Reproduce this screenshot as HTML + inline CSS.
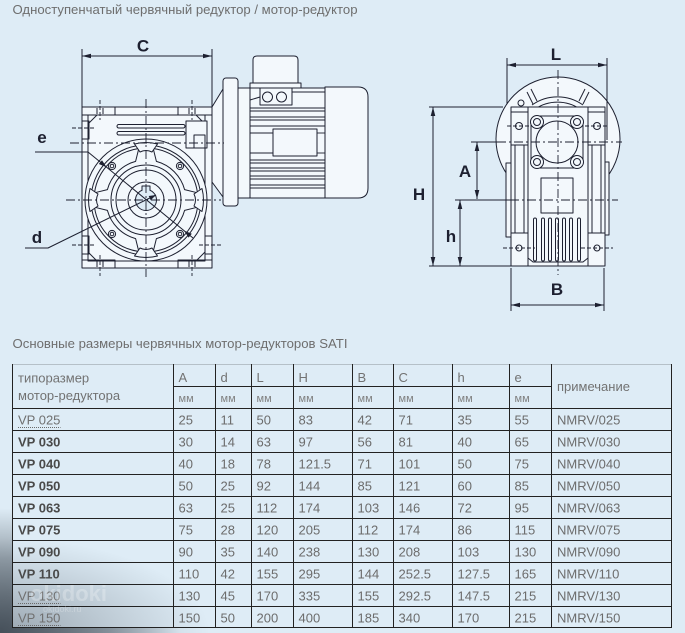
<!DOCTYPE html>
<html><head><meta charset="utf-8">
<style>
html,body{margin:0;padding:0;width:685px;height:633px;overflow:hidden;background:#deecf6}
#wrap{position:relative;width:685px;height:633px;overflow:hidden}
svg{display:block}
</style></head><body>
<div id="wrap">
<svg width="685" height="633" viewBox="0 0 685 633" xmlns="http://www.w3.org/2000/svg" font-family="Liberation Sans, Arial, sans-serif">
<defs>
 <radialGradient id="sh1" cx="0" cy="1" r="1"><stop offset="0" stop-color="#3c4650" stop-opacity="0.42"/><stop offset="1" stop-color="#3c4650" stop-opacity="0"/></radialGradient>
 <radialGradient id="sh2" cx="0" cy="1" r="1"><stop offset="0" stop-color="#3c4650" stop-opacity="0.9"/><stop offset="0.6" stop-color="#3c4650" stop-opacity="0.45"/><stop offset="1" stop-color="#3c4650" stop-opacity="0"/></radialGradient>
 <clipPath id="outside"><path clip-rule="evenodd" d="M0 0H685V633H0Z M12.5 364H671V627.5H12.5Z"/></clipPath>
</defs>
<rect width="685" height="633" fill="#deecf6"/>
<rect x="0" y="538" width="210" height="95" fill="url(#sh1)"/>
<rect x="0" y="508" width="180" height="125" fill="url(#sh2)" clip-path="url(#outside)"/>

<!-- titles -->
<text x="12.5" y="14" font-size="13" fill="#6e6e6e" textLength="345" lengthAdjust="spacingAndGlyphs">Одноступенчатый червячный редуктор / мотор-редуктор</text>
<text x="12.5" y="348" font-size="13" fill="#6e6e6e" textLength="335" lengthAdjust="spacingAndGlyphs">Основные размеры червячных мотор-редукторов SATI</text>

<!-- ============ LEFT VIEW ============ -->
<g stroke="#1d2030" stroke-width="1" fill="none" stroke-linejoin="round">
 <!-- motor -->
 <path d="M212,107 L223,89 L223,197 L212,182 Z" fill="#f3f8fc"/>
 <rect x="238" y="88" width="87" height="110" fill="#f3f8fc"/>
 <line x1="250" y1="88" x2="250" y2="198"/>
 <g stroke-width="0.9">
  <line x1="250" y1="108" x2="325" y2="108"/><line x1="250" y1="111" x2="325" y2="111"/>
  <line x1="250" y1="117" x2="325" y2="117"/><line x1="250" y1="120" x2="325" y2="120"/>
  <line x1="250" y1="126" x2="325" y2="126"/><line x1="250" y1="133" x2="273" y2="133"/>
  <line x1="317" y1="133" x2="325" y2="133"/><line x1="250" y1="153" x2="273" y2="153"/>
  <line x1="317" y1="153" x2="325" y2="153"/>
  <line x1="250" y1="160" x2="325" y2="160"/><line x1="250" y1="163" x2="325" y2="163"/>
  <line x1="250" y1="168" x2="325" y2="168"/><line x1="250" y1="171" x2="325" y2="171"/>
  <line x1="250" y1="176" x2="325" y2="176"/><line x1="250" y1="179" x2="325" y2="179"/>
  <line x1="250" y1="185" x2="325" y2="185"/><line x1="250" y1="188" x2="325" y2="188"/>
  <line x1="262" y1="92" x2="325" y2="92"/>
 </g>
 <rect x="273" y="129" width="44" height="27" fill="#f3f8fc"/>
 <rect x="223" y="78" width="15" height="128" rx="3" fill="#f3f8fc"/>
 <path d="M253,84 V60 Q253,56 257,56 H294 Q298,56 298,60 V84 Z" fill="#f3f8fc"/>
 <rect x="250" y="83" width="51" height="5" fill="#f3f8fc"/>
 <rect x="260" y="88" width="32" height="17" fill="#f3f8fc"/>
 <circle cx="267.5" cy="97" r="5"/><circle cx="281.5" cy="97" r="5"/>
 <line x1="250" y1="100" x2="260" y2="97"/>
 <path d="M325,87 H358 Q368,87 368,97 V188 Q368,198 358,198 H325 Z" fill="#f3f8fc"/>

 <!-- gearbox body -->
 <rect x="82" y="107" width="130" height="161" fill="#f3f8fc"/>
 <rect x="88" y="115" width="117" height="146"/>
 <path d="M82,115 H115 V107 M178,107 V115 H212"/>
 <path d="M82,260 H115 V268 M178,268 V260 H212"/>
 <line x1="97" y1="108" x2="97" y2="114"/><line x1="103" y1="108" x2="103" y2="114"/>
 <line x1="189" y1="108" x2="189" y2="114"/><line x1="195" y1="108" x2="195" y2="114"/>
 <line x1="97" y1="261" x2="97" y2="267"/><line x1="103" y1="261" x2="103" y2="267"/>
 <line x1="189" y1="261" x2="189" y2="267"/><line x1="195" y1="261" x2="195" y2="267"/>
 <rect x="82" y="121" width="7" height="18"/>
 <rect x="82" y="236" width="7" height="18"/>
 <rect x="205" y="236" width="7" height="18"/>
 <line x1="88" y1="124" x2="97" y2="115"/><line x1="196" y1="115" x2="205" y2="124"/>
 <line x1="88" y1="252" x2="97" y2="261"/><line x1="205" y1="252" x2="196" y2="261"/>
 <rect x="117" y="124.5" width="68" height="3.5" rx="1.7"/>
 <rect x="117" y="131.5" width="68" height="3.5" rx="1.7"/>
 <rect x="186" y="121" width="21" height="27" fill="#f3f8fc"/>
 <rect x="194" y="135" width="11" height="13"/>

 <!-- flange -->
 <circle cx="146" cy="200" r="61" fill="#f3f8fc"/>
 <circle cx="146" cy="200" r="55"/>
 <path d="M197.5,207.2 A52,52 0 0 1 153.2,251.5 L156.4,238.6 A40,40 0 0 0 184.6,210.4 Z"/>
 <path d="M138.8,251.5 A52,52 0 0 1 94.5,207.2 L107.4,210.4 A40,40 0 0 0 135.6,238.6 Z"/>
 <path d="M94.5,192.8 A52,52 0 0 1 138.8,148.5 L135.6,161.4 A40,40 0 0 0 107.4,189.6 Z"/>
 <path d="M153.2,148.5 A52,52 0 0 1 197.5,192.8 L184.6,189.6 A40,40 0 0 0 156.4,161.4 Z"/>
 <g>
  <path d="M134.5,144 Q146,141 157.5,144 L152,152 Q146,149 140,152 Z" fill="#f3f8fc"/>
  <path d="M134.5,144 Q146,141 157.5,144 L152,152 Q146,149 140,152 Z" fill="#f3f8fc" transform="rotate(90 146 200)"/>
  <path d="M134.5,144 Q146,141 157.5,144 L152,152 Q146,149 140,152 Z" fill="#f3f8fc" transform="rotate(180 146 200)"/>
  <path d="M134.5,144 Q146,141 157.5,144 L152,152 Q146,149 140,152 Z" fill="#f3f8fc" transform="rotate(270 146 200)"/>
 </g>
 <circle cx="146" cy="200" r="35"/>
 <circle cx="146" cy="200" r="30"/>
 <circle cx="146" cy="200" r="18"/>
 <circle cx="146" cy="200" r="10.5" fill="#deecf6"/>
 <rect x="142.5" y="186.5" width="7" height="4" fill="#deecf6" stroke="none"/>
 <path d="M142,190 V186 H150 V190"/>
 <g>
  <circle cx="112" cy="166" r="3.6"/><circle cx="112" cy="166" r="1.8"/>
  <circle cx="180" cy="166" r="3.6"/><circle cx="180" cy="166" r="1.8"/>
  <circle cx="112" cy="234" r="3.6"/><circle cx="112" cy="234" r="1.8"/>
  <circle cx="180" cy="234" r="3.6"/><circle cx="180" cy="234" r="1.8"/>
 </g>

 <!-- centerlines -->
 <g stroke-dasharray="9,3,2,3" stroke-width="0.9">
  <line x1="146" y1="99" x2="146" y2="277"/>
  <line x1="66" y1="200" x2="221" y2="200"/>
  <line x1="70" y1="143" x2="224" y2="143"/>
 </g>
 <g stroke-dasharray="4,2" stroke-width="0.9">
  <line x1="100" y1="100" x2="100" y2="120"/><line x1="192" y1="100" x2="192" y2="120"/>
  <line x1="100" y1="255" x2="100" y2="276"/><line x1="192" y1="255" x2="192" y2="276"/>
  <line x1="72" y1="128" x2="95" y2="128"/>
  <line x1="72" y1="245" x2="95" y2="245"/><line x1="199" y1="245" x2="222" y2="245"/>
 </g>

 <!-- dimension C -->
 <line x1="82" y1="49" x2="82" y2="107"/><line x1="212" y1="49" x2="212" y2="107"/>
 <line x1="82" y1="56" x2="212" y2="56"/>
 <!-- e leader -->
 <polyline points="35,152 88,152 193,238"/>
 <!-- d leader -->
 <polyline points="25,248 48,248 156,195"/>
</g>
<g fill="#1d2030">
 <polygon points="82,56 91,53.7 91,58.3"/><polygon points="212,56 203,53.7 203,58.3"/>
 <polygon points="106.6,167.2 98.8,164.0 102.0,160.2"/>
 <polygon points="184,230.6 188.6,237.6 191.8,233.8"/>
 <polygon points="156,195 148.7,196.0 150.7,200.2"/>
</g>

<!-- ============ RIGHT VIEW ============ -->
<g stroke="#1d2030" stroke-width="1" fill="none" stroke-linejoin="round">
 <circle cx="558" cy="139" r="62" fill="#f3f8fc"/>
 <path d="M532,105 A44,44 0 0 1 583,105"/>
 <path d="M535,109 A40,40 0 0 1 580,109"/>
 <line x1="527" y1="92" x2="533" y2="104"/><line x1="531" y1="89" x2="537" y2="101"/>
 <line x1="589" y1="92" x2="583" y2="104"/><line x1="585" y1="89" x2="579" y2="101"/>
 <circle cx="521" cy="103" r="3"/>
 <rect x="506" y="163" width="6" height="74" fill="#f3f8fc"/>
 <rect x="604" y="162" width="5" height="73" fill="#f3f8fc"/>
 <!-- body -->
 <rect x="528" y="107" width="60" height="159" fill="#f3f8fc"/>
 <rect x="511" y="107" width="17" height="159" fill="#f3f8fc"/>
 <rect x="588" y="107" width="17" height="159" fill="#f3f8fc"/>
 <line x1="511" y1="145" x2="528" y2="145"/><line x1="588" y1="145" x2="605" y2="145"/>
 <line x1="511" y1="233" x2="528" y2="233"/><line x1="588" y1="233" x2="605" y2="233"/>
 <line x1="515" y1="145" x2="515" y2="233"/><line x1="524" y1="145" x2="524" y2="233"/>
 <line x1="592" y1="145" x2="592" y2="233"/><line x1="601" y1="145" x2="601" y2="233"/>
 <line x1="511" y1="112" x2="528" y2="112"/><line x1="588" y1="112" x2="605" y2="112"/>
 <circle cx="519" cy="126" r="3.5"/><circle cx="597" cy="126" r="3.5"/>
 <circle cx="519" cy="248" r="3"/><circle cx="597" cy="248" r="3"/>
 <path d="M528,258 L533,262 H583 L588,258"/>
 <!-- square flange -->
 <rect x="531" y="116" width="52" height="52" rx="7" fill="#f3f8fc"/>
 <circle cx="537" cy="122" r="6.5" fill="#f3f8fc"/><circle cx="537" cy="122" r="3.5"/>
 <circle cx="577" cy="122" r="6.5" fill="#f3f8fc"/><circle cx="577" cy="122" r="3.5"/>
 <circle cx="537" cy="162" r="6.5" fill="#f3f8fc"/><circle cx="537" cy="162" r="3.5"/>
 <circle cx="577" cy="162" r="6.5" fill="#f3f8fc"/><circle cx="577" cy="162" r="3.5"/>
 <circle cx="557" cy="142" r="21" fill="#f3f8fc"/>
 <rect x="541" y="178" width="32" height="35"/>
 <!-- fins -->
 <rect x="533.5" y="218" width="3" height="43" rx="1.5"/>
 <rect x="541.5" y="218" width="3" height="43" rx="1.5"/>
 <rect x="548.5" y="218" width="3" height="43" rx="1.5"/>
 <rect x="555.5" y="218" width="3" height="43" rx="1.5"/>
 <rect x="562.5" y="218" width="3" height="43" rx="1.5"/>
 <rect x="569.5" y="218" width="3" height="43" rx="1.5"/>
 <rect x="577.5" y="218" width="3" height="43" rx="1.5"/>
 <!-- centerlines -->
 <g stroke-dasharray="9,3,2,3" stroke-width="0.9">
  <line x1="558" y1="70" x2="558" y2="275"/>
  <line x1="497" y1="142" x2="622" y2="142"/>
  <line x1="510" y1="200" x2="618" y2="200"/>
 </g>
 <g stroke-dasharray="4,2" stroke-width="0.9">
  <line x1="507" y1="126" x2="531" y2="126"/><line x1="585" y1="126" x2="609" y2="126"/>
  <line x1="503" y1="248" x2="535" y2="248"/><line x1="581" y1="248" x2="613" y2="248"/>
 </g>
 <!-- dimensions -->
 <line x1="507" y1="58" x2="507" y2="104"/><line x1="607" y1="58" x2="607" y2="140"/>
 <line x1="507" y1="65" x2="607" y2="65"/>
 <line x1="429" y1="107" x2="503" y2="107"/><line x1="429" y1="266" x2="511" y2="266"/>
 <line x1="433" y1="107" x2="433" y2="266"/>
 <line x1="471" y1="142" x2="497" y2="142"/>
 <line x1="477" y1="142" x2="477" y2="199"/>
 <line x1="455" y1="200" x2="510" y2="200"/>
 <line x1="460" y1="200" x2="460" y2="266"/>
 <line x1="511" y1="268" x2="511" y2="311"/><line x1="604" y1="268" x2="604" y2="311"/>
 <line x1="511" y1="305" x2="604" y2="305"/>
</g>
<g fill="#1d2030">
 <polygon points="507,65 516,62.7 516,67.3"/><polygon points="607,65 598,62.7 598,67.3"/>
 <polygon points="433,107 430.7,116 435.3,116"/><polygon points="433,266 430.7,257 435.3,257"/>
 <polygon points="477,142 474.7,151 479.3,151"/><polygon points="477,199 474.7,190 479.3,190"/>
 <polygon points="460,200 457.7,209 462.3,209"/><polygon points="460,266 457.7,257 462.3,257"/>
 <polygon points="511,305 520,302.7 520,307.3"/><polygon points="604,305 595,302.7 595,307.3"/>
</g>

<!-- labels -->
<g font-size="17" font-weight="bold" fill="#1d2030" text-anchor="middle">
 <text x="143" y="51.5">C</text>
 <text x="42" y="143">e</text>
 <text x="37" y="243">d</text>
 <text x="556" y="60">L</text>
 <text x="419" y="200">H</text>
 <text x="465" y="177">A</text>
 <text x="451" y="242">h</text>
 <text x="557" y="295">B</text>
</g>

<!-- ============ TABLE ============ -->
<g stroke="#222" stroke-width="1" shape-rendering="crispEdges">
 <line x1="12" y1="364.5" x2="671.5" y2="364.5" stroke="#b5c0c8"/>
 <line x1="173" y1="386.5" x2="551" y2="386.5"/>
 <line x1="12" y1="408.5" x2="671.5" y2="408.5"/>
 <line x1="12" y1="430.5" x2="671.5" y2="430.5"/>
 <line x1="12" y1="452.5" x2="671.5" y2="452.5"/>
 <line x1="12" y1="474.5" x2="671.5" y2="474.5"/>
 <line x1="12" y1="496.5" x2="671.5" y2="496.5"/>
 <line x1="12" y1="518.5" x2="671.5" y2="518.5"/>
 <line x1="12" y1="540.5" x2="671.5" y2="540.5"/>
 <line x1="12" y1="562.5" x2="671.5" y2="562.5"/>
 <line x1="12" y1="584.5" x2="671.5" y2="584.5"/>
 <line x1="12" y1="606.5" x2="671.5" y2="606.5"/>
 <line x1="12" y1="627.5" x2="671.5" y2="627.5"/>
 <line x1="12.5" y1="364" x2="12.5" y2="628"/>
 <line x1="173.5" y1="364" x2="173.5" y2="628"/>
 <line x1="215.5" y1="364" x2="215.5" y2="628"/>
 <line x1="251.5" y1="364" x2="251.5" y2="628"/>
 <line x1="293.5" y1="364" x2="293.5" y2="628"/>
 <line x1="352.5" y1="364" x2="352.5" y2="628"/>
 <line x1="393.5" y1="364" x2="393.5" y2="628"/>
 <line x1="452.5" y1="364" x2="452.5" y2="628"/>
 <line x1="509.5" y1="364" x2="509.5" y2="628"/>
 <line x1="551.5" y1="364" x2="551.5" y2="628"/>
 <line x1="671.5" y1="364" x2="671.5" y2="628"/>
</g>

<g font-size="13" fill="#727272">
 <text x="18" y="382.5">типоразмер</text>
 <text x="18" y="400">мотор-редуктора</text>
 <text x="178.5" y="382">A</text><text x="220.5" y="382">d</text><text x="256.5" y="382">L</text>
 <text x="298.5" y="382">H</text><text x="357.5" y="382">B</text><text x="398.5" y="382">C</text>
 <text x="457.5" y="382">h</text><text x="514.5" y="382">e</text>
 <text x="557" y="391">примечание</text>
</g>
<g font-size="11" fill="#808080">
 <text x="178.5" y="402">мм</text><text x="220.5" y="402">мм</text><text x="256.5" y="402">мм</text>
 <text x="298.5" y="402">мм</text><text x="357.5" y="402">мм</text><text x="398.5" y="402">мм</text>
 <text x="457.5" y="402">мм</text><text x="514.5" y="402">мм</text>
</g>

<!-- VP labels -->
<g font-size="13">
 <text x="18" y="424.5" fill="#707070">VP 025</text>
 <text x="18" y="446.5" fill="#4a4a4a" font-weight="bold">VP 030</text>
 <text x="18" y="468.5" fill="#4a4a4a" font-weight="bold">VP 040</text>
 <text x="18" y="490.5" fill="#4a4a4a" font-weight="bold">VP 050</text>
 <text x="18" y="512.5" fill="#4a4a4a" font-weight="bold">VP 063</text>
 <text x="18" y="534.5" fill="#4a4a4a" font-weight="bold">VP 075</text>
 <text x="18" y="556.5" fill="#4a4a4a" font-weight="bold">VP 090</text>
 <text x="18" y="578.5" fill="#4a4a4a" font-weight="bold">VP 110</text>
 <text x="18" y="600.5" fill="#707070">VP 130</text>
 <text x="18" y="622.5" fill="#707070">VP 150</text>
</g>
<g stroke="#6a6a6a" stroke-width="1" stroke-dasharray="1,1">
 <line x1="18" y1="427.5" x2="60.5" y2="427.5"/>
 <line x1="18" y1="603.5" x2="60.5" y2="603.5"/>
 <line x1="18" y1="625.5" x2="60.5" y2="625.5"/>
</g>

<g font-size="13" fill="#6c6c6c">
 <g transform="translate(0,424.5)">
  <text x="178.5">25</text><text x="220.5">11</text><text x="256.5">50</text><text x="298.5">83</text><text x="357.5">42</text><text x="398.5">71</text><text x="457.5">35</text><text x="514.5">55</text><text x="557">NMRV/025</text>
 </g>
 <g transform="translate(0,446.5)">
  <text x="178.5">30</text><text x="220.5">14</text><text x="256.5">63</text><text x="298.5">97</text><text x="357.5">56</text><text x="398.5">81</text><text x="457.5">40</text><text x="514.5">65</text><text x="557">NMRV/030</text>
 </g>
 <g transform="translate(0,468.5)">
  <text x="178.5">40</text><text x="220.5">18</text><text x="256.5">78</text><text x="298.5">121.5</text><text x="357.5">71</text><text x="398.5">101</text><text x="457.5">50</text><text x="514.5">75</text><text x="557">NMRV/040</text>
 </g>
 <g transform="translate(0,490.5)">
  <text x="178.5">50</text><text x="220.5">25</text><text x="256.5">92</text><text x="298.5">144</text><text x="357.5">85</text><text x="398.5">121</text><text x="457.5">60</text><text x="514.5">85</text><text x="557">NMRV/050</text>
 </g>
 <g transform="translate(0,512.5)">
  <text x="178.5">63</text><text x="220.5">25</text><text x="256.5">112</text><text x="298.5">174</text><text x="357.5">103</text><text x="398.5">146</text><text x="457.5">72</text><text x="514.5">95</text><text x="557">NMRV/063</text>
 </g>
 <g transform="translate(0,534.5)">
  <text x="178.5">75</text><text x="220.5">28</text><text x="256.5">120</text><text x="298.5">205</text><text x="357.5">112</text><text x="398.5">174</text><text x="457.5">86</text><text x="514.5">115</text><text x="557">NMRV/075</text>
 </g>
 <g transform="translate(0,556.5)">
  <text x="178.5">90</text><text x="220.5">35</text><text x="256.5">140</text><text x="298.5">238</text><text x="357.5">130</text><text x="398.5">208</text><text x="457.5">103</text><text x="514.5">130</text><text x="557">NMRV/090</text>
 </g>
 <g transform="translate(0,578.5)">
  <text x="178.5">110</text><text x="220.5">42</text><text x="256.5">155</text><text x="298.5">295</text><text x="357.5">144</text><text x="398.5">252.5</text><text x="457.5">127.5</text><text x="514.5">165</text><text x="557">NMRV/110</text>
 </g>
 <g transform="translate(0,600.5)">
  <text x="178.5">130</text><text x="220.5">45</text><text x="256.5">170</text><text x="298.5">335</text><text x="357.5">155</text><text x="398.5">292.5</text><text x="457.5">147.5</text><text x="514.5">215</text><text x="557">NMRV/130</text>
 </g>
 <g transform="translate(0,622.5)">
  <text x="178.5">150</text><text x="220.5">50</text><text x="256.5">200</text><text x="298.5">400</text><text x="357.5">185</text><text x="398.5">340</text><text x="457.5">170</text><text x="514.5">215</text><text x="557">NMRV/150</text>
 </g>
</g>

<!-- watermark -->
<text x="30" y="601" font-size="22" font-weight="bold" fill="#ffffff" fill-opacity="0.25">okidoki</text>
<text x="43" y="612" font-size="9" fill="#ffffff" fill-opacity="0.25">okidoki.ru</text>
</svg>
</div>
</body></html>
